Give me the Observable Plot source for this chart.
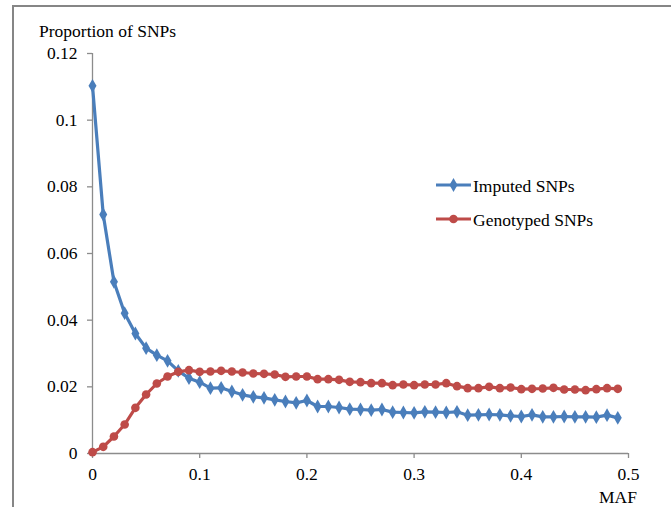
<!DOCTYPE html>
<html>
<head>
<meta charset="utf-8">
<script src="https://cdn.jsdelivr.net/npm/d3@7"></script>
<script src="https://cdn.jsdelivr.net/npm/@observablehq/plot@0.6"></script>
<style>
  html, body { margin: 0; padding: 0; background: #fff; overflow: hidden; }
  #wrap { position: relative; width: 671px; height: 507px; font-family: "Liberation Serif", "Times New Roman", serif; }
  #frame { position: absolute; left: 12px; top: 5px; width: 720px; height: 620px; border-left: 2px solid #868686; border-top: 2px solid #868686; }
  #chart { position: absolute; left: 0; top: 0; }
  .lbl { position: absolute; font-size: 17.5px; line-height: 17.5px; color: #000; white-space: nowrap; }
  #legend { position: absolute; left: 0; top: 0; }
</style>
</head>
<body>
<div id="wrap">
  <div id="frame"></div>
  <div id="chart"></div>
  <div class="lbl" id="ylab" style="left:39px; top:23px;">Proportion of SNPs</div>
  <div class="lbl" id="xlab" style="right:34px; top:489px;">MAF</div>
  <svg id="legend" width="671" height="507"></svg>
</div>
<script>
const maf = [0.00,0.01,0.02,0.03,0.04,0.05,0.06,0.07,0.08,0.09,
             0.10,0.11,0.12,0.13,0.14,0.15,0.16,0.17,0.18,0.19,
             0.20,0.21,0.22,0.23,0.24,0.25,0.26,0.27,0.28,0.29,
             0.30,0.31,0.32,0.33,0.34,0.35,0.36,0.37,0.38,0.39,
             0.40,0.41,0.42,0.43,0.44,0.45,0.46,0.47,0.48,0.49];
const imputed = [0.1103,0.0717,0.0515,0.0421,0.0360,0.0316,0.0295,0.0278,0.0248,0.0226,
                 0.0214,0.0196,0.0197,0.0186,0.0176,0.0170,0.0167,0.0161,0.0156,0.0152,
                 0.0159,0.0141,0.0141,0.0138,0.0133,0.0132,0.0130,0.0132,0.0124,0.0123,
                 0.0122,0.0125,0.0124,0.0123,0.0125,0.0115,0.0116,0.0117,0.0116,0.0113,
                 0.0111,0.0116,0.0110,0.0110,0.0111,0.0110,0.0110,0.0109,0.0115,0.0107];
const genotyped = [0.0004,0.0020,0.0051,0.0087,0.0137,0.0177,0.0210,0.0231,0.0245,0.0250,
                   0.0245,0.0246,0.0248,0.0246,0.0243,0.0240,0.0239,0.0237,0.0230,0.0231,
                   0.0231,0.0223,0.0223,0.0221,0.0215,0.0214,0.0211,0.0211,0.0205,0.0207,
                   0.0205,0.0207,0.0207,0.0211,0.0202,0.0196,0.0196,0.0200,0.0196,0.0198,
                   0.0193,0.0194,0.0195,0.0197,0.0192,0.0192,0.0190,0.0193,0.0196,0.0194];
const xTicks = [0, 0.1, 0.2, 0.3, 0.4, 0.5];
const yTicks = [0, 0.02, 0.04, 0.06, 0.08, 0.1, 0.12];
const seriesNames = ["Imputed SNPs", "Genotyped SNPs"];
const seriesColors = ["#4a7ebb", "#be4b48"];

const impData = maf.map((m, i) => ({maf: m, v: imputed[i]}));
const genData = maf.map((m, i) => ({maf: m, v: genotyped[i]}));
const fmt = d3.format("~g");
const axisColor = "#8c8c8c";

const plot = Plot.plot({
  width: 671,
  height: 507,
  marginLeft: 92,
  marginRight: 43,
  marginTop: 53,
  marginBottom: 54,
  style: {fontFamily: '"Liberation Serif", "Times New Roman", serif', fontSize: "17.5px", background: "transparent", color: "#000"},
  x: {domain: [0, 0.5]},
  y: {domain: [0, 0.12]},
  marks: [
    Plot.ruleX([0], {stroke: axisColor, strokeWidth: 1.3}),
    Plot.ruleY([0], {stroke: axisColor, strokeWidth: 1.3}),
    Plot.axisY(yTicks, {tickSize: 5, tickPadding: 10, tickFormat: fmt, label: null, stroke: axisColor, fill: "#000", strokeWidth: 1.3}),
    Plot.axisX(xTicks, {tickSize: 5, tickPadding: 9, tickFormat: fmt, label: null, stroke: axisColor, fill: "#000", strokeWidth: 1.3}),
    Plot.lineY(impData, {x: "maf", y: "v", stroke: seriesColors[0], strokeWidth: 3.2}),
    Plot.dot(impData, {x: "maf", y: "v", symbol: "diamond", r: 4.2, fill: seriesColors[0], stroke: "none"}),
    Plot.lineY(genData, {x: "maf", y: "v", stroke: seriesColors[1], strokeWidth: 3.2}),
    Plot.dot(genData, {x: "maf", y: "v", symbol: "circle", r: 4.3, fill: seriesColors[1], stroke: "none"})
  ]
});
document.getElementById("chart").appendChild(plot);

// Legend (line + marker swatches)
const lg = d3.select("#legend");
const rows = [{y: 185, tb: 191.5}, {y: 219, tb: 226}];
seriesNames.forEach((name, i) => {
  const g = lg.append("g");
  g.append("line").attr("x1", 436).attr("x2", 471).attr("y1", rows[i].y).attr("y2", rows[i].y)
    .attr("stroke", seriesColors[i]).attr("stroke-width", 3.2);
  const sym = i === 0 ? d3.symbol(d3.symbolDiamond, 55) : d3.symbol(d3.symbolCircle, 58);
  g.append("path").attr("d", sym()).attr("transform", `translate(453.5,${rows[i].y})`).attr("fill", seriesColors[i]);
  g.append("text").attr("x", 473).attr("y", rows[i].tb)
    .attr("font-family", '"Liberation Serif", "Times New Roman", serif').attr("font-size", "17.5px").attr("fill", "#000")
    .text(name);
});
</script>
</body>
</html>
